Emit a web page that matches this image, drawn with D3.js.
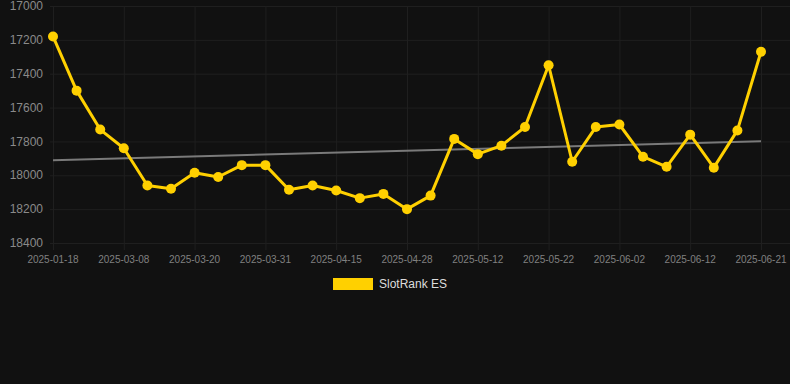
<!DOCTYPE html>
<html>
<head>
<meta charset="utf-8">
<script src="https://cdn.jsdelivr.net/npm/d3@7"></script>
<style>
    body { margin: 0; background: #111111; }
    svg { display: block; }
</style>
</head>
<body>
<svg id="chart" width="790" height="384"></svg>
<script>
// dates shown on the axis (every third point gets a label)
const dates = [
    "2025-01-18", "2025-02-02", "2025-02-20", "2025-03-08", "2025-03-12", "2025-03-16",
    "2025-03-20", "2025-03-24", "2025-03-27", "2025-03-31", "2025-04-05", "2025-04-10",
    "2025-04-15", "2025-04-19", "2025-04-24", "2025-04-28", "2025-05-02", "2025-05-07",
    "2025-05-12", "2025-05-15", "2025-05-19", "2025-05-22", "2025-05-26", "2025-05-29",
    "2025-06-02", "2025-06-05", "2025-06-09", "2025-06-12", "2025-06-15", "2025-06-18",
    "2025-06-21"
];

const ranks = [
    17180, 17500, 17730, 17840, 18060, 18080,
    17985, 18010, 17940, 17940, 18085, 18060,
    18090, 18135, 18110, 18200, 18120, 17785,
    17875, 17825, 17715, 17350, 17920, 17715,
    17700, 17890, 17950, 17760, 17955, 17735,
    17270
];

const yTicks = [17000, 17200, 17400, 17600, 17800, 18000, 18200, 18400];
const seriesName = "SlotRank ES";

const svg = d3.select("#chart");
const plot = { left: 53, right: 761, top: 6, bottom: 243 };

const x = d3.scalePoint().domain(dates).range([plot.left, plot.right]);
const y = d3.scaleLinear().domain([17000, 18400]).range([plot.top, plot.bottom]);

const labelDates = dates.filter((d, i) => i % 3 === 0);

// horizontal grid
svg.append("g")
    .selectAll("line")
    .data(yTicks)
    .join("line")
    .attr("x1", 50)
    .attr("x2", 790)
    .attr("y1", (d) => y(d) + 0.5)
    .attr("y2", (d) => y(d) + 0.5)
    .attr("stroke", "#1f1f1f");

// vertical grid + ticks
svg.append("g")
    .selectAll("line")
    .data(labelDates)
    .join("line")
    .attr("x1", (d) => x(d) + 0.5)
    .attr("x2", (d) => x(d) + 0.5)
    .attr("y1", plot.top)
    .attr("y2", plot.bottom + 7)
    .attr("stroke", "#1f1f1f");

// y labels
svg.append("g")
    .selectAll("text")
    .data(yTicks)
    .join("text")
    .attr("x", 43)
    .attr("y", (d) => y(d))
    .attr("dy", "0.35em")
    .attr("text-anchor", "end")
    .attr("font-family", "Arial, 'Liberation Sans', sans-serif")
    .attr("font-size", 12)
    .attr("fill", "#8a8a8a")
    .text((d) => d);

// x labels
svg.append("g")
    .selectAll("text")
    .data(labelDates)
    .join("text")
    .attr("x", (d) => x(d))
    .attr("y", 259)
    .attr("dy", "0.35em")
    .attr("text-anchor", "middle")
    .attr("font-family", "Arial, 'Liberation Sans', sans-serif")
    .attr("font-size", 10)
    .attr("fill", "#808080")
    .text((d) => d);

// least squares trend line
const n = ranks.length;
const meanI = (n - 1) / 2;
const meanV = d3.mean(ranks);
let sxy = 0, sxx = 0;
ranks.forEach((v, i) => {
    sxy += (i - meanI) * (v - meanV);
    sxx += (i - meanI) * (i - meanI);
});
const slope = sxy / sxx;
const trend = [0, n - 1].map((i) => ({ d: dates[i], v: meanV + slope * (i - meanI) }));

svg.append("line")
    .attr("x1", x(trend[0].d))
    .attr("y1", y(trend[0].v))
    .attr("x2", x(trend[1].d))
    .attr("y2", y(trend[1].v))
    .attr("stroke", "#7a7a7a")
    .attr("stroke-width", 2);

// main series
const line = d3.line()
    .x((d, i) => x(dates[i]))
    .y((d) => y(d));

svg.append("path")
    .datum(ranks)
    .attr("d", line)
    .attr("fill", "none")
    .attr("stroke", "#ffd000")
    .attr("stroke-width", 3)
    .attr("stroke-linejoin", "round");

svg.append("g")
    .selectAll("circle")
    .data(ranks)
    .join("circle")
    .attr("cx", (d, i) => x(dates[i]))
    .attr("cy", (d) => y(d))
    .attr("r", 5)
    .attr("fill", "#ffd000");

// legend
const legend = svg.append("g");
legend.append("rect")
    .attr("x", 333)
    .attr("y", 278)
    .attr("width", 40)
    .attr("height", 12)
    .attr("fill", "#ffd000");
legend.append("text")
    .attr("x", 379)
    .attr("y", 284)
    .attr("dy", "0.35em")
    .attr("font-family", "Arial, 'Liberation Sans', sans-serif")
    .attr("font-size", 12)
    .attr("fill", "#dddddd")
    .text(seriesName);
</script>
</body>
</html>
